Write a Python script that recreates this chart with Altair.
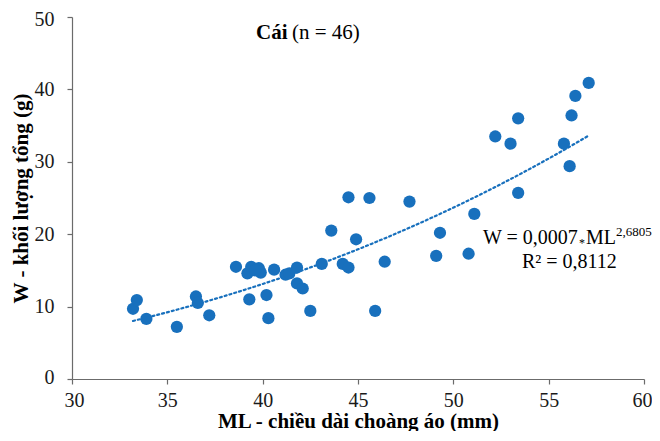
import altair as alt
import pandas as pd

ml = [33.2, 33.4, 33.9, 35.5, 36.5, 36.6, 37.2, 38.6, 39.2, 39.4, 39.8, 39.9, 39.6,
      39.3, 40.2, 40.3, 40.6, 41.2, 41.4, 41.8, 41.8, 42.1, 42.5, 43.1,
      45.9, 44.2, 44.5, 46.4, 49.1, 50.8, 43.6, 44.9, 49.3, 51.1, 44.5, 45.6, 47.7, 53.4,
      52.2, 53.0, 53.4, 55.8, 56.1, 56.2, 56.4, 57.1]
w = [9.7, 10.9, 8.3, 7.2, 11.4, 10.5, 8.8, 15.5, 14.6, 15.5, 15.3, 14.7, 15.0,
     11.0, 11.6, 8.4, 15.1, 14.4, 14.6, 15.4, 13.2, 12.5, 9.4, 15.9,
     9.4, 15.9, 15.4, 16.2, 17.0, 17.3, 20.5, 19.3, 20.2, 22.8, 25.1, 25.0, 24.5, 25.7,
     33.5, 32.5, 36.0, 32.5, 29.4, 36.4, 39.1, 40.9]
x_ticks = [30, 35, 40, 45, 50, 55, 60]
y_ticks = [0, 10, 20, 30, 40, 50]

df = pd.DataFrame({"ML": ml, "W": w})
BLUE = "#1870bd"
FONT = "Liberation Serif"

xscale = alt.Scale(domain=[30, 60], nice=False, zero=False)
yscale = alt.Scale(domain=[0, 50], nice=False)

base = alt.Chart(df)

points = base.mark_circle(size=150, color=BLUE, opacity=1).encode(
    x=alt.X("ML:Q", scale=xscale,
            axis=alt.Axis(title="ML - chiều dài choàng áo (mm)", values=x_ticks,
                          grid=False, tickSize=5, labelPadding=6, titlePadding=0,
                          labelFlush=True, labelFlushOffset=8, labelOverlap=False)),
    y=alt.Y("W:Q", scale=yscale,
            axis=alt.Axis(title="W - khối lượng tổng (g)", values=y_ticks,
                          grid=False, tickSize=5, labelPadding=13, titlePadding=3,
                          labelFlush=True, labelFlushOffset=8, labelOverlap=False)),
)

trend = base.transform_regression("ML", "W", method="pow").mark_line(
    color=BLUE, strokeDash=[2, 3], strokeWidth=2.2, strokeCap="round"
).encode(x=alt.X("ML:Q", scale=xscale), y=alt.Y("W:Q", scale=yscale))

def txt(s, x, y, size=20, bold=False, align="left"):
    return alt.Chart(pd.DataFrame({"t": [s]})).mark_text(
        font=FONT, fontSize=size, fontWeight="bold" if bold else "normal",
        align=align, baseline="middle", color="#000000"
    ).encode(text="t:N", x=alt.value(x), y=alt.value(y))

ann = [
    txt("Cái", 184, 16, size=21, bold=True),
    txt("(n = 46)", 220, 16, size=21),
    txt("W = 0,0007", 411, 221),
    txt("*", 507, 226, size=12),
    txt("ML", 514, 221),
    txt("2,6805", 544, 215, size=13),
    txt("R² = 0,8112", 450, 245),
]

chart = alt.layer(trend, points, *ann).properties(
    width=572, height=362,
    autosize=alt.AutoSizeParams(type="none"),
    padding={"left": 64, "top": 9, "right": 8, "bottom": 52},
).configure(font=FONT).configure_view(stroke=None).configure_axis(
    labelFont=FONT, titleFont=FONT, labelFontSize=20, titleFontSize=21,
    labelColor="#1a1a1a", titleColor="#000000", titleFontWeight="bold",
    domainColor="#6b6b6b", tickColor="#6b6b6b", domainWidth=1.2, tickWidth=1.2,
)

chart.save("out.html", embed_options={"renderer": "svg", "actions": False})
